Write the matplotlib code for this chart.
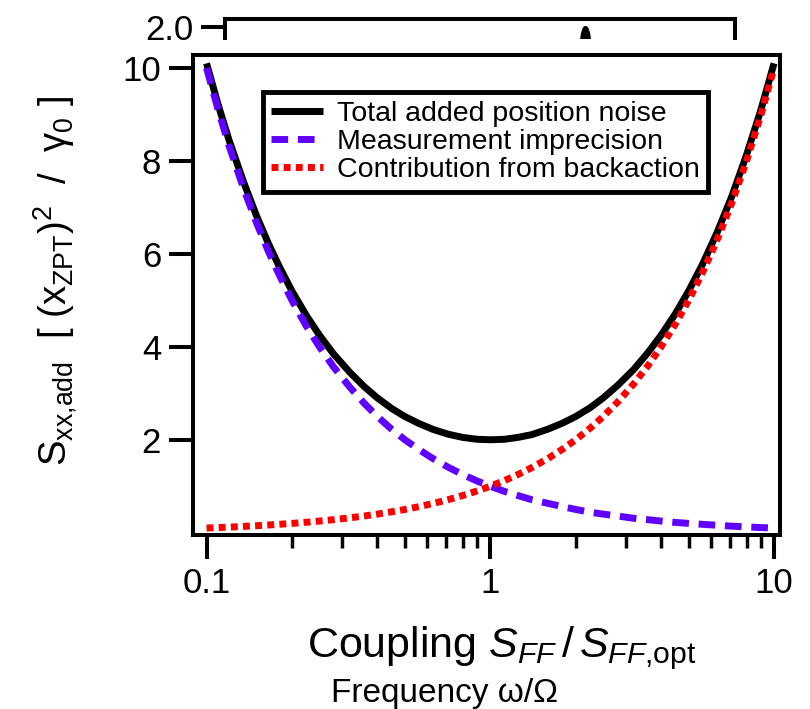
import matplotlib
matplotlib.use("Agg")
import matplotlib.pyplot as plt
import matplotlib.ticker as ticker

plt.rcParams["font.family"] = ["Liberation Sans", "DejaVu Sans"]
plt.rcParams["mathtext.fontset"] = "custom"
plt.rcParams["mathtext.rm"] = "Liberation Sans"
plt.rcParams["mathtext.it"] = "Liberation Sans:italic"
plt.rcParams["mathtext.bf"] = "Liberation Sans:bold"

# coupling S_FF / S_FF,opt
coupling = [0.1, 0.11, 0.12, 0.135, 0.15, 0.165, 0.18, 0.2, 0.225, 0.25, 0.28,
            0.32, 0.36, 0.4, 0.45, 0.5, 0.56, 0.63, 0.71, 0.8, 0.9, 1.0,
            1.12, 1.25, 1.4, 1.6, 1.8, 2.0, 2.25, 2.5, 2.8, 3.2, 3.6, 4.0,
            4.5, 5.0, 5.6, 6.3, 7.1, 8.0, 9.0, 10.0]
imprecision = [10.0, 9.09, 8.33, 7.41, 6.67, 6.06, 5.56, 5.0, 4.44, 4.0, 3.57,
               3.13, 2.78, 2.5, 2.22, 2.0, 1.79, 1.59, 1.41, 1.25, 1.11, 1.0,
               0.89, 0.8, 0.71, 0.63, 0.56, 0.5, 0.44, 0.4, 0.36, 0.31, 0.28, 0.25,
               0.22, 0.2, 0.18, 0.16, 0.14, 0.125, 0.11, 0.1]
backaction = [0.1, 0.11, 0.12, 0.135, 0.15, 0.165, 0.18, 0.2, 0.225, 0.25, 0.28,
              0.32, 0.36, 0.4, 0.45, 0.5, 0.56, 0.63, 0.71, 0.8, 0.9, 1.0,
              1.12, 1.25, 1.4, 1.6, 1.8, 2.0, 2.25, 2.5, 2.8, 3.2, 3.6, 4.0,
              4.5, 5.0, 5.6, 6.3, 7.1, 8.0, 9.0, 10.0]
total = [10.1, 9.2, 8.45, 7.55, 6.82, 6.23, 5.74, 5.2, 4.67, 4.25, 3.85,
         3.45, 3.14, 2.9, 2.67, 2.5, 2.35, 2.22, 2.12, 2.05, 2.01, 2.0,
         2.01, 2.05, 2.11, 2.23, 2.36, 2.5, 2.69, 2.9, 3.16, 3.51, 3.88, 4.25,
         4.72, 5.2, 5.78, 6.46, 7.24, 8.13, 9.11, 10.1]

# fragment of the panel above (cropped)
top_x = [0.694, 0.697, 0.700, 0.703, 0.706, 0.709, 0.712, 0.715, 0.718]
top_y = [1.80, 1.93, 1.99, 2.015, 2.02, 2.015, 1.99, 1.93, 1.80]

fig = plt.figure(figsize=(8.1, 7.09), dpi=100)

ax = fig.add_axes([0.2383, 0.2454, 0.7247, 0.677])
ax.plot(coupling, total, color="black", lw=5, solid_capstyle="butt",
        label="Total added position noise", zorder=3)
ax.plot(coupling, imprecision, color="#6000ff", lw=5, dashes=(2.4, 1.4),
        label="Measurement imprecision", zorder=4)
ax.plot(coupling, backaction, color="#ff0000", lw=5, dashes=(1.0, 0.75),
        label="Contribution from backaction", zorder=5)

ax.set_xscale("log")
ax.set_xlim(0.0896, 10.5)
ax.set_ylim(-0.05, 10.28)
ax.set_xticks([0.1, 1, 10])
ax.set_xticklabels(["0.1", "1", "10"])
ax.xaxis.set_minor_locator(ticker.FixedLocator(
    [0.2, 0.3, 0.4, 0.5, 0.6, 0.7, 0.8, 0.9, 2, 3, 4, 5, 6, 7, 8, 9]))
ax.xaxis.set_minor_formatter(ticker.NullFormatter())
ax.set_yticks([2, 4, 6, 8, 10])
ax.yaxis.set_minor_locator(ticker.NullLocator())

for sp in ax.spines.values():
    sp.set_linewidth(2.9)
ax.tick_params(axis="both", which="major", direction="out", length=17,
               width=2.9, labelsize=25, pad=6)
ax.tick_params(axis="x", which="minor", direction="out", length=9, width=2.5)

ax.set_xlabel(r"Coupling $S_{FF}\,/\,S_{FF{,}\mathrm{opt}}$", fontsize=31)
ax.xaxis.set_label_coords(0.526, -0.235)
ax.xaxis.label.set_va("center")
ax.set_ylabel(r"S$_{\mathrm{xx{,}add}}$  [ (x$_{\mathrm{ZPT}}$)$^{\mathrm{2}}$  /  $\mathrm{\gamma_0}$ ]",
              fontsize=27.5)
ax.yaxis.set_label_coords(-0.235, 0.53)
ax.yaxis.label.set_va("center")

leg = ax.legend(loc="upper left", bbox_to_anchor=(0.119, 0.923), borderaxespad=0,
                fontsize=20.5, frameon=True, fancybox=False, framealpha=1,
                edgecolor="black", handlelength=1.8, handletextpad=0.5,
                labelspacing=0.08, borderpad=0.3)
leg.get_frame().set_linewidth(3.5)

fig.text(0.549, 0.022, "Frequency ω/Ω", fontsize=24, ha="center", va="center")

# cropped top panel
ax2 = fig.add_axes([0.2778, 0.9464, 0.6296, 0.0268])
ax2.fill_between(top_x, 1.8, top_y, color="black", lw=0)
ax2.set_xlim(0, 1)
ax2.set_ylim(1.8625, 2.1)
ax2.spines["bottom"].set_visible(False)
for sp in ["top", "left", "right"]:
    ax2.spines[sp].set_linewidth(2.9)
ax2.set_xticks([])
ax2.set_yticks([2.0])
ax2.set_yticklabels(["2.0"])
ax2.tick_params(axis="y", direction="out", length=17, width=2.9, labelsize=25, pad=6)

fig.savefig("out.png", dpi=100)
